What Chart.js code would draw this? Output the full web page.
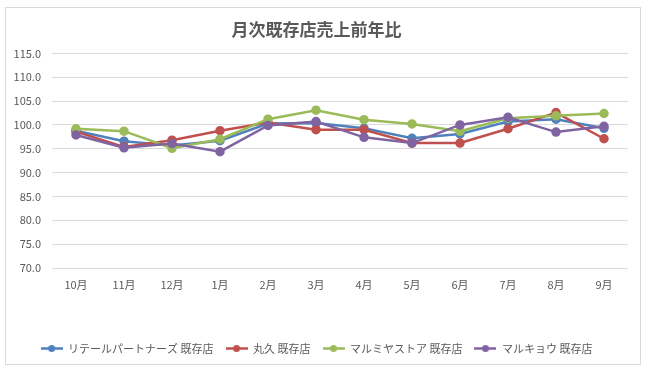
<!DOCTYPE html>
<html>
<head>
<meta charset="utf-8">
<script src="https://cdn.jsdelivr.net/npm/chart.js@4"></script>
<style>
	html, body { margin: 0; padding: 0; background: #ffffff; }
	#wrap { width: 650px; height: 373px; }
</style>
</head>
<body>
<div id="wrap"><canvas id="salesChart" width="650" height="373"></canvas></div>
<script>
var months = ['10月', '11月', '12月', '1月', '2月', '3月', '4月', '5月', '6月', '7月', '8月', '9月'];
var seriesNames = ['リテールパートナーズ 既存店', '丸久 既存店', 'マルミヤストア 既存店', 'マルキョウ 既存店'];
var retailPartners = [98.8, 96.6, 95.7, 96.7, 100.3, 100.4, 99.3, 97.2, 98.1, 100.7, 101.2, 99.3];
var marukyu = [98.6, 95.4, 96.8, 98.8, 100.5, 99.0, 99.0, 96.2, 96.2, 99.2, 102.6, 97.1];
var marumiya = [99.2, 98.7, 95.1, 97.0, 101.2, 103.1, 101.1, 100.2, 98.7, 101.4, 101.9, 102.4];
var marukyo = [97.9, 95.2, 96.1, 94.4, 99.9, 100.7, 97.4, 96.2, 100.0, 101.6, 98.5, 99.7];
var seriesColors = ['#4F81BD', '#C0504D', '#9BBB59', '#8064A2'];

var fontFamily = '"Noto Sans CJK JP", "Noto Sans", sans-serif';
var textColor = '#595959';

// small line + dot image for legend
function makeLegendIcon(color) {
	var c = document.createElement('canvas');
	c.width = 22;
	c.height = 9;
	var ctx = c.getContext('2d');
	ctx.strokeStyle = color;
	ctx.lineWidth = 2.5;
	ctx.beginPath();
	ctx.moveTo(0, 4.5);
	ctx.lineTo(22, 4.5);
	ctx.stroke();
	ctx.fillStyle = color;
	ctx.beginPath();
	ctx.arc(11, 4.5, 3.5, 0, Math.PI * 2);
	ctx.fill();
	return c;
}

var allValues = [retailPartners, marukyu, marumiya, marukyo];
var datasets = [];
for (var i = 0; i < allValues.length; i++) {
	datasets.push({
		'label': seriesNames[i],
		'data': allValues[i],
		'borderColor': seriesColors[i],
		'backgroundColor': seriesColors[i],
		'pointBackgroundColor': seriesColors[i],
		'pointBorderColor': seriesColors[i],
		'borderWidth': 2.5,
		'pointRadius': 3.5,
		'tension': 0,
		'order': allValues.length - 1 - i
	});
}

var frameBorder = {
	id: 'frameBorder',
	beforeDraw: function (chart) {
		var ctx = chart.ctx;
		ctx.save();
		ctx.fillStyle = '#ffffff';
		ctx.fillRect(0, 0, chart.width, chart.height);
		ctx.strokeStyle = '#d9d9d9';
		ctx.lineWidth = 1;
		ctx.strokeRect(5.5, 7.5, 635, 357);
		ctx.restore();
	}
};

var config = {
	'type': 'line',
	'data': { 'labels': months, 'datasets': datasets },
	'options': {
		'responsive': false,
		'animation': false,
		'layout': { 'padding': { 'left': 5, 'right': 22, 'top': 18, 'bottom': 9 } },
		'plugins': {
			'title': {
				'display': true,
				'text': '月次既存店売上前年比',
				'color': textColor,
				'font': { 'family': fontFamily, 'size': 17, 'weight': 'bold' },
				'padding': { 'top': 1, 'bottom': 14 }
			},
			'legend': {
				'position': 'bottom',
				'labels': {
					'usePointStyle': true,
					'pointStyleWidth': 22,
					'color': textColor,
					'font': { 'family': fontFamily, 'size': 11 },
					'padding': 12,
					'sort': function (a, b) { return a.datasetIndex - b.datasetIndex; },
					'generateLabels': function (chart) {
						var items = Chart.defaults.plugins.legend.labels.generateLabels(chart);
						items.forEach(function (item) {
							item.pointStyle = makeLegendIcon(seriesColors[item.datasetIndex]);
						});
						return items;
					}
				}
			},
			'tooltip': { 'enabled': false }
		},
		'scales': {
			'x': {
				'offset': true,
				'afterFit': function (scale) { scale.height = 63; },
				'grid': { 'display': false, 'drawTicks': false, 'offset': true },
				'border': { 'display': false },
				'ticks': {
					'color': textColor,
					'font': { 'family': fontFamily, 'size': 11 },
					'padding': 10,
					'maxRotation': 0
				}
			},
			'y': {
				'min': 70,
				'max': 115,
				'afterFit': function (scale) { scale.width = 47; },
				'grid': { 'color': '#d9d9d9', 'drawTicks': false },
				'border': { 'display': false },
				'ticks': {
					'stepSize': 5,
					'color': textColor,
					'font': { 'family': fontFamily, 'size': 11 },
					'padding': 11,
					'callback': function (value) { return value.toFixed(1); }
				}
			}
		}
	},
	'plugins': [frameBorder]
};

var lineChart = new Chart(document.getElementById('salesChart'), config);
</script>
</body>
</html>
